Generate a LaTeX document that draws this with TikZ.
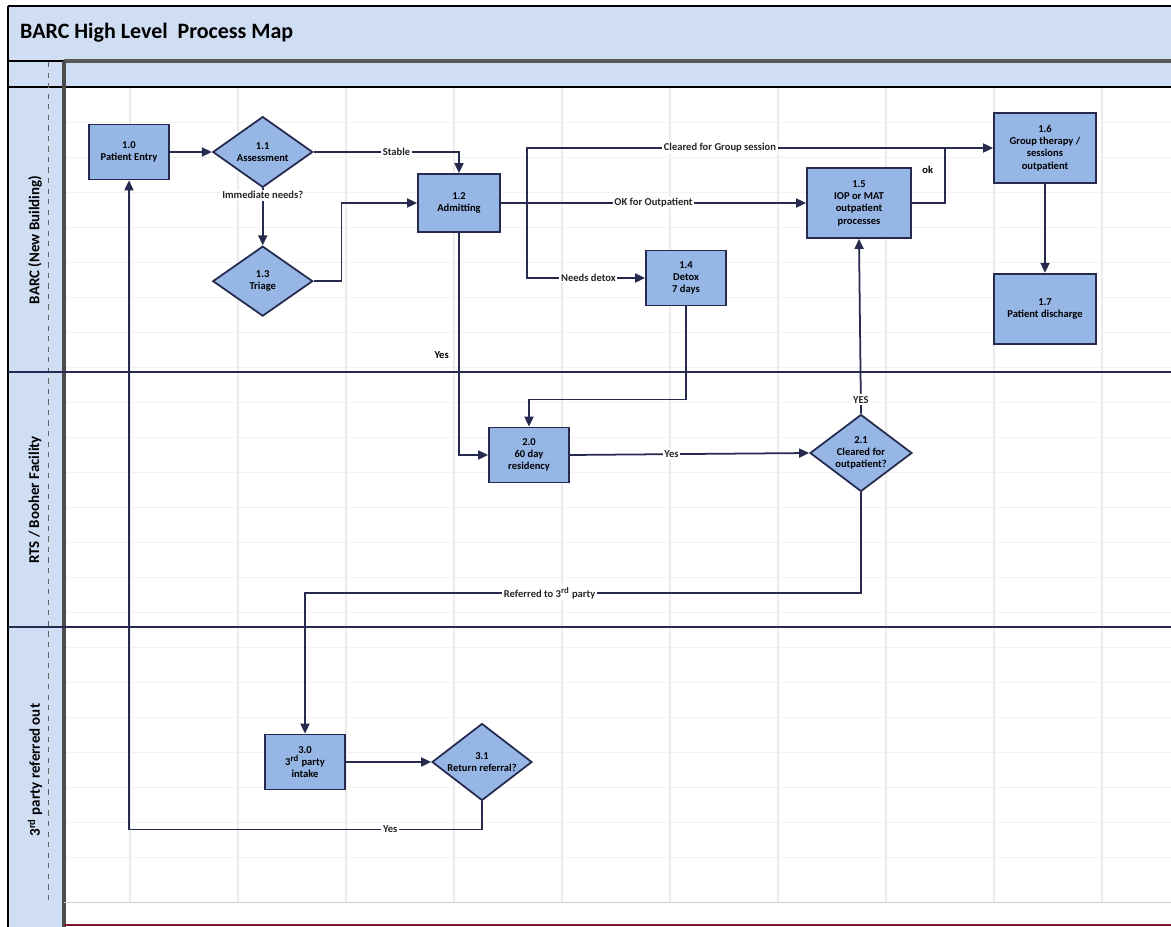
\documentclass[tikz,border=0pt]{standalone}
\usepackage{fontspec}
\setmainfont{Carlito}
\usetikzlibrary{shapes.geometric, arrows.meta, positioning, calc}
\definecolor{boxblue}{RGB}{150,182,230}
\definecolor{paleblue}{RGB}{208,222,243}
\definecolor{navyline}{RGB}{38,42,78}
\tikzset{
    process/.style={rectangle, draw=navyline, line width=1pt, fill=boxblue, minimum width=1.6cm, minimum height=1.1cm, align=center, font=\fontsize{6}{7}\selectfont\bfseries, inner sep=1pt},
    decision/.style={diamond, draw=navyline, line width=1pt, fill=boxblue, minimum width=2cm, minimum height=1.4cm, align=center, font=\fontsize{6}{7}\selectfont\bfseries, inner sep=0pt},
    arrowline/.style={-{Triangle[length=2mm, width=1.8mm]}, line width=1pt, draw=navyline},
    plainline/.style={line width=1pt, draw=navyline},
    flowlabel/.style={fill=white, inner sep=1pt, font=\fontsize{6}{7}\selectfont\bfseries, text=black!85},
    lanetitle/.style={rotate=90, font=\fontsize{8.5}{10}\selectfont\bfseries}
}

\begin{document}
\begin{tikzpicture}[x=0.02cm, y=-0.02cm]
  \useasboundingbox (0,0) rectangle (1171,927);
  % swim lane frame
  \fill[paleblue] (8,6) rectangle (1171,87);
  \fill[paleblue] (8,87) rectangle (64,927);
  \fill[white] (64,87) rectangle (1171,925);
  \foreach \gx in {130,238,...,1110} \draw[black!8, line width=0.6pt] (\gx,88) -- (\gx,902);
  \foreach \gy in {122,157,...,890} \draw[black!5, line width=0.5pt] (64,\gy) -- (1171,\gy);
  \draw[black, line width=0.8pt] (8,6) -- (1171,6);
  \draw[black, line width=0.6pt] (8,61) -- (64,61);
  \draw[black!65, line width=2pt] (64,61) -- (1171,61);
  \draw[black, line width=0.8pt] (8,87) -- (1171,87);
  \draw[black, line width=0.8pt] (8,6) -- (8,927);
  \draw[black!60, dashed, line width=0.5pt] (48,62) -- (48,900);
  \draw[black!70, line width=2pt] (64,61) -- (64,927);
  \draw[navyline, line width=1pt] (8,372) -- (1171,372);
  \draw[navyline, line width=1pt] (8,627) -- (1171,627);
  \draw[black!20] (64,902) -- (1171,902);
  \draw[red!40!navyline, line width=1pt] (64,925) -- (1171,925);
  \node[anchor=west, font=\fontsize{12.5}{14}\selectfont\bfseries] (title) at (14,33) {BARC High Level\ \ Process Map};
  \node[lanetitle] (lane1) at (35,240) {BARC (New Building)};
  \node[lanetitle] (lane2) at (35,500) {RTS / Booher Facility};
  \node[lanetitle] (lane3) at (35,770) {3\textsuperscript{rd} party referred out};
  % steps
  \node[process] (entry) at (129,152) {1.0\\Patient Entry};
  \node[decision, right=0.84cm of entry] (assess) {1.1\\Assessment};
  \node[decision, below=1.14cm of assess] (triage) {1.3\\Triage};
  \node[process, minimum width=1.64cm, minimum height=1.16cm] (admit) at (459,203) {1.2\\Admitting};
  \node[process] (detox) at (686,278) {1.4\\Detox\\7 days};
  \node[process, minimum width=2.08cm, minimum height=1.4cm] (iop) at (859,203) {1.5\\IOP or MAT\\outpatient\\processes};
  \node[process, minimum width=2.04cm, minimum height=1.4cm] (grp) at (1045,148) {1.6\\Group therapy /\\sessions\\outpatient};
  \node[process, minimum width=2.04cm, minimum height=1.4cm, below=1.78cm of grp] (disch) {1.7\\Patient discharge};
  \node[process] (res) at (529,455) {2.0\\60 day\\residency};
  \node[decision, minimum width=2.04cm, minimum height=1.54cm, inner sep=-2pt] (clear) at (861,453) {2.1\\Cleared for\\outpatient?};
  \node[process] (intake) at (305,762) {3.0\\3\textsuperscript{rd} party\\intake};
  \node[decision, minimum height=1.54cm, inner sep=-3pt] (ret) at (482,762) {3.1\\Return referral?};
  \coordinate (split) at (527,203);
  \coordinate (okjoin) at ($(grp.west)+(-48,0)$);
  % connectors
  \draw[arrowline] (entry) -- (assess);
  \draw[arrowline] (assess.east) -| node[pos=0.285, flowlabel]{Stable} (admit.north);
  \draw[arrowline] (assess.south) -- node[pos=0.12, flowlabel]{Immediate needs?} (triage.north);
  \draw[arrowline] (triage.east) -- ++(28,0) |- (admit.west);
  \draw[arrowline] (admit.east) -- node[flowlabel]{OK for Outpatient} (iop.west);
  \draw[arrowline] (split) |- node[pos=0.707, flowlabel]{Cleared for Group session} (grp.west);
  \draw[arrowline] (split) |- node[pos=0.76, flowlabel]{Needs detox} (detox.west);
  \draw[plainline] (iop.east) -| node[pos=0.8, left=3pt, font=\fontsize{6}{7}\selectfont\bfseries]{ok} (okjoin);
  \draw[arrowline] (grp) -- (disch);
  \draw[arrowline] (admit.south) |- node[pos=0.276, left=2pt, font=\fontsize{6}{7}\selectfont\bfseries]{Yes} (res.west);
  \draw[arrowline] (detox.south) -- ++(0,93) -| (res.north);
  \draw[arrowline] (res.east) -- node[pos=0.425, flowlabel]{Yes} (clear.west);
  \draw[arrowline] (clear.north) -- node[pos=0.08, flowlabel]{YES} (iop.south);
  \draw[arrowline] (clear.south) -- ++(0,101) -| node[pos=0.28, flowlabel]{Referred to 3\textsuperscript{rd} party} (intake.north);
  \draw[arrowline] (intake.east) -- (ret.west);
  \draw[arrowline] (ret.south) -- ++(0,28) -| node[pos=0.13, flowlabel]{Yes} (entry.south);
\end{tikzpicture}
\end{document}
